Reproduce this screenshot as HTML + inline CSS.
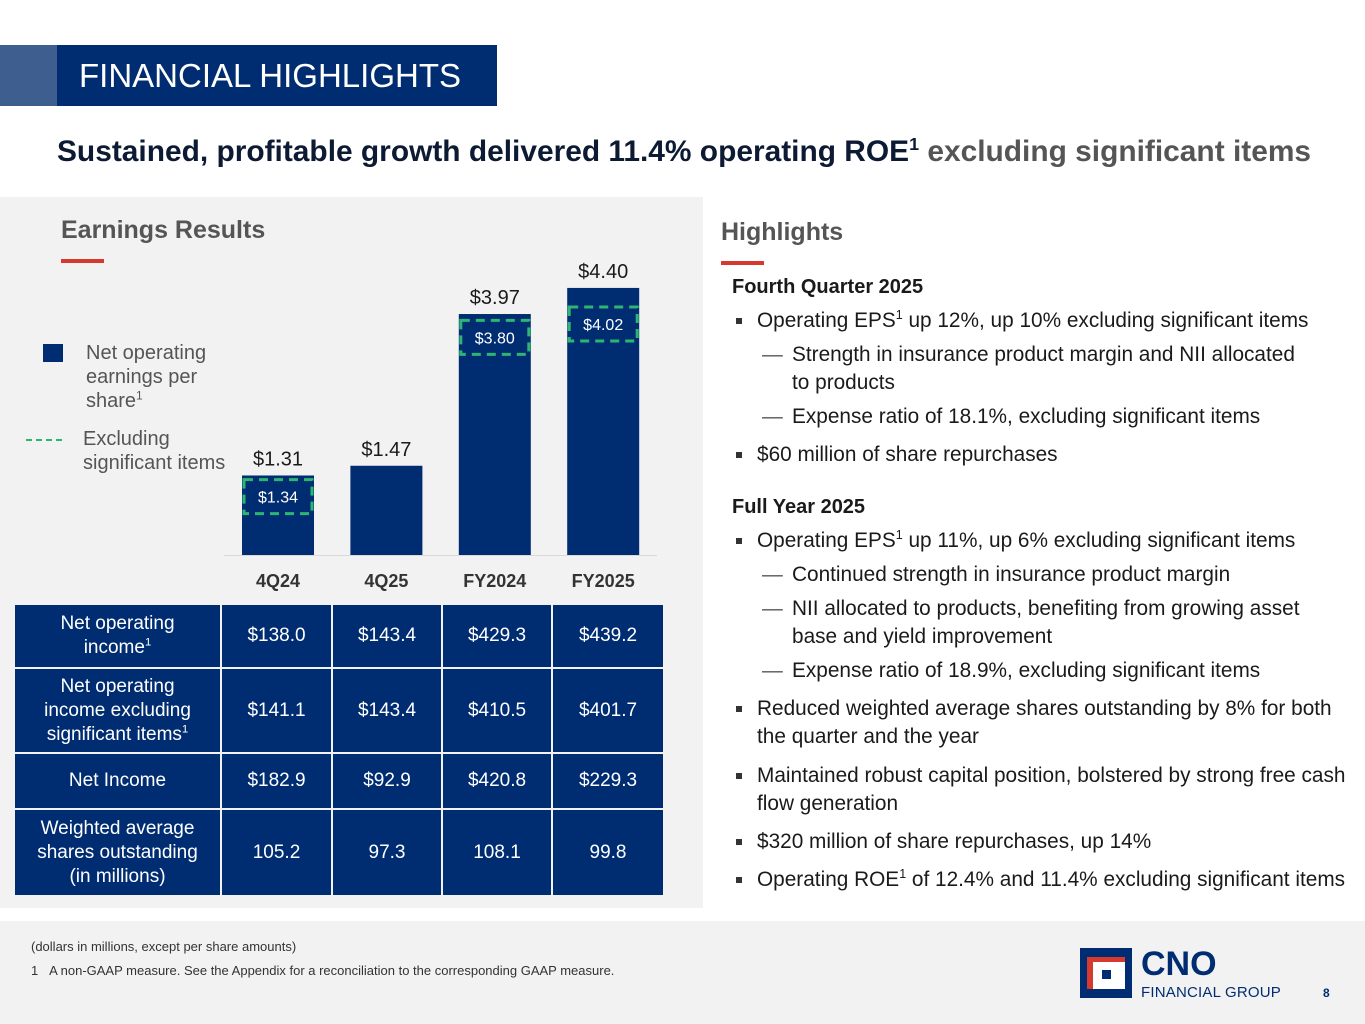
<!DOCTYPE html>
<html><head><meta charset="utf-8"><style>
*{margin:0;padding:0;box-sizing:border-box}
body{width:1365px;height:1024px;position:relative;background:#fff;font-family:"Liberation Sans",Arial,sans-serif;overflow:hidden}
.abs{position:absolute}
sup{font-size:60%;vertical-align:super;line-height:0}
.r{position:absolute;color:#1a1a1a;font-size:20.8px;line-height:28px;white-space:nowrap}
.b{padding-left:25px}
.b:before{content:"";position:absolute;left:4px;top:11px;width:6px;height:6px;background:#333}
.d{padding-left:60px}
.d:before{content:"—";position:absolute;left:30px;top:0;color:#555}
table{border-collapse:separate;border-spacing:2px;position:absolute;left:13px;top:603px}
td{background:#002d72;color:#fff;font-size:19px;text-align:center;line-height:24px}
</style></head><body>
<div class="abs" style="left:0;top:45px;width:57px;height:61px;background:#3e5e90"></div>
<div class="abs" style="left:57px;top:45px;width:440px;height:61px;background:#002d72;color:#fff;font-size:33px;line-height:61px;padding-left:22px">FINANCIAL HIGHLIGHTS</div>
<div class="abs" style="left:57px;top:135px;font-size:29.9px;font-weight:bold;color:#0d1a33;white-space:nowrap">Sustained, profitable growth delivered 11.4% operating ROE<sup>1</sup> <span style="color:#555">excluding significant items</span></div>
<div class="abs" style="left:0;top:197px;width:703px;height:711px;background:#f2f2f2"></div>
<div class="abs" style="left:0;top:921px;width:1365px;height:103px;background:#f2f2f2"></div>
<div class="abs" style="left:61px;top:216px;font-size:25px;font-weight:bold;color:#555">Earnings Results</div>
<div class="abs" style="left:61px;top:259px;width:43px;height:4px;background:#d63a2f"></div>
<div class="abs" style="left:721px;top:218px;font-size:25px;font-weight:bold;color:#555">Highlights</div>
<div class="abs" style="left:721px;top:261px;width:43px;height:4px;background:#d63a2f"></div>

<div class="abs" style="left:43px;top:344px;width:20px;height:18px;background:#002d72"></div>
<div class="abs" style="left:86px;top:341px;font-size:20px;line-height:24px;color:#555">Net operating<br>earnings per<br>share<sup>1</sup></div>
<div class="abs" style="left:26px;top:439px;width:36px;border-top:2px dashed #2bb673"></div>
<div class="abs" style="left:83px;top:427px;font-size:20px;line-height:24px;color:#555">Excluding<br>significant items</div>

<svg class="abs" style="left:0;top:0" width="703" height="600"><g id="chart"></g></svg>

<table>
<tr style="height:62px"><td style="width:205px">Net operating<br>income<sup>1</sup></td><td style="width:109px">$138.0</td><td style="width:108px">$143.4</td><td style="width:108px">$429.3</td><td style="width:110px">$439.2</td></tr>
<tr style="height:83px"><td>Net operating<br>income excluding<br>significant items<sup>1</sup></td><td>$141.1</td><td>$143.4</td><td>$410.5</td><td>$401.7</td></tr>
<tr style="height:54px"><td>Net Income</td><td>$182.9</td><td>$92.9</td><td>$420.8</td><td>$229.3</td></tr>
<tr style="height:85px"><td>Weighted average<br>shares outstanding<br>(in millions)</td><td>105.2</td><td>97.3</td><td>108.1</td><td>99.8</td></tr>
</table>

<div>
<div class="r" style="left:732px;top:273px;font-weight:bold;font-size:20px">Fourth Quarter 2025</div>
<div class="r b" style="left:732px;top:307px">Operating EPS<sup>1</sup> up 12%, up 10% excluding significant items</div>
<div class="r d" style="left:732px;top:341px">Strength in insurance product margin and NII allocated<br>to products</div>
<div class="r d" style="left:732px;top:403px">Expense ratio of 18.1%, excluding significant items</div>
<div class="r b" style="left:732px;top:441px">$60 million of share repurchases</div>
<div class="r" style="left:732px;top:493px;font-weight:bold;font-size:20px">Full Year 2025</div>
<div class="r b" style="left:732px;top:527px">Operating EPS<sup>1</sup> up 11%, up 6% excluding significant items</div>
<div class="r d" style="left:732px;top:561px">Continued strength in insurance product margin</div>
<div class="r d" style="left:732px;top:595px">NII allocated to products, benefiting from growing asset<br>base and yield improvement</div>
<div class="r d" style="left:732px;top:657px">Expense ratio of 18.9%, excluding significant items</div>
<div class="r b" style="left:732px;top:695px">Reduced weighted average shares outstanding by 8% for both<br>the quarter and the year</div>
<div class="r b" style="left:732px;top:762px">Maintained robust capital position, bolstered by strong free cash<br>flow generation</div>
<div class="r b" style="left:732px;top:828px">$320 million of share repurchases, up 14%</div>
<div class="r b" style="left:732px;top:866px">Operating ROE<sup>1</sup> of 12.4% and 11.4% excluding significant items</div>
</div>

<div class="abs" style="left:31px;top:939px;font-size:13px;color:#333">(dollars in millions, except per share amounts)</div>
<div class="abs" style="left:31px;top:963px;font-size:13px;color:#333">1&nbsp;&nbsp;&nbsp;A non-GAAP measure. See the Appendix for a reconciliation to the corresponding GAAP measure.</div>

<div class="abs" style="left:1080px;top:948px;width:52px;height:50px;background:#002d72">
<div class="abs" style="left:7px;top:9px;width:38px;height:32px;background:#d63a2f"></div>
<div class="abs" style="left:13px;top:14px;width:32px;height:27px;background:#fff"></div>
<div class="abs" style="left:22px;top:22px;width:9px;height:9px;background:#002d72"></div>
</div>
<div class="abs" style="left:1141px;top:947px;font-size:34px;font-weight:bold;color:#002d72;line-height:34px">CNO</div>
<div class="abs" style="left:1141px;top:984px;font-size:15px;color:#002d72;letter-spacing:0.2px">FINANCIAL GROUP</div>
<div class="abs" style="left:1323px;top:986px;font-size:12px;font-weight:bold;color:#002d72">8</div>

<script>
const categories=["4Q24","4Q25","FY2024","FY2025"];
const epsValues=[1.31,1.47,3.97,4.40];
const exclValues=[1.34,null,3.80,4.02];
const NS="http://www.w3.org/2000/svg";
const g=document.getElementById("chart");
const baseY=555,scale=60.7,x0=278,step=108.4,bw=72;
const yPos=v=>baseY-v*scale;
const xPos=i=>x0+i*step;
function mk(t,a){const e=document.createElementNS(NS,t);for(const k in a)e.setAttribute(k,a[k]);g.appendChild(e);return e;}
const ax=mk("line",{x1:224,x2:657,y1:baseY+0.5,y2:baseY+0.5,stroke:"#d9d9d9","stroke-width":1});


categories.forEach((c,i)=>{
  const cx=xPos(i),v=epsValues[i];
  const r=mk("rect",{x:cx-bw/2,y:yPos(v),width:bw,height:v*scale,fill:"#002d72"});
  
  
  const t=mk("text",{x:cx,y:yPos(v)-10,"text-anchor":"middle","font-size":20,fill:"#1a1a1a","font-family":"Liberation Sans"});
  t.textContent="$"+v.toFixed(2);
  
  
  const l=mk("text",{x:cx,y:587,"text-anchor":"middle","font-size":18,"font-weight":"bold",fill:"#333","font-family":"Liberation Sans"});
  l.textContent=c;
  
  
  const e=exclValues[i];
  if(e!=null){
    const by=yPos(e)+(i===0?6:-4);
    const b=mk("rect",{x:cx-34,y:by,width:68,height:34,fill:"none",stroke:"#2bb673","stroke-width":3,"stroke-dasharray":"9,6"});
    
    
    const bt=mk("text",{x:cx,y:by+23,"text-anchor":"middle","font-size":16,fill:"#fff","font-family":"Liberation Sans"});
    bt.textContent="$"+e.toFixed(2);
    
    
  }
});
</script>
</body></html>
